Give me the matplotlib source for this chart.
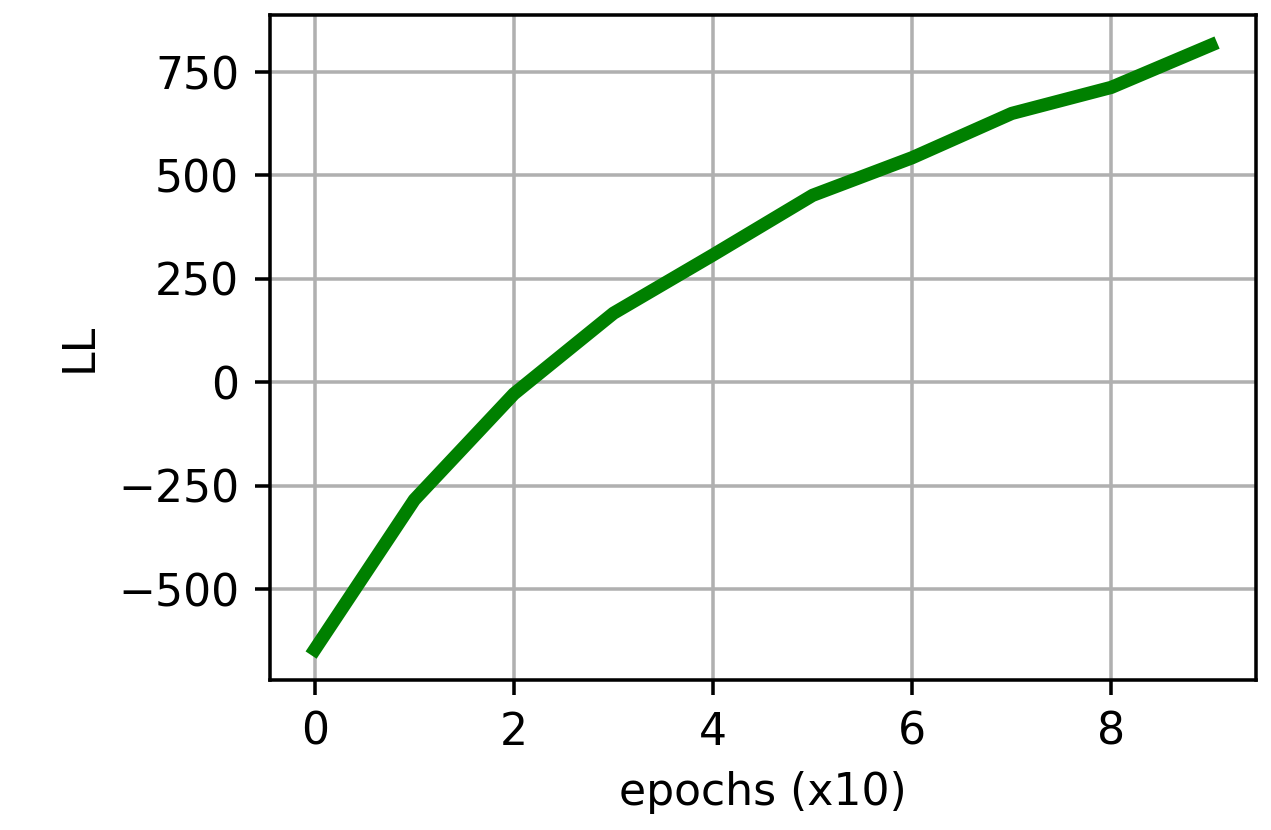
import matplotlib
matplotlib.use("Agg")
import matplotlib.pyplot as plt

# Log-likelihood recorded every 10 epochs
epochs = list(range(10))
log_likelihood = [-646, -284, -28, 167, 308, 452, 543, 650, 713, 815]

DPI = 318
fig = plt.figure(figsize=(1271 / DPI, 830 / DPI), dpi=DPI)
ax = fig.add_axes([0.2124, 0.181, 0.7756, 0.801])

ax.plot(epochs, log_likelihood, color="g", linewidth=3)
ax.set_xlabel("epochs (x10)")
ax.set_ylabel("LL")
ax.set_yticks([-500, -250, 0, 250, 500, 750])
ax.grid(True)

fig.savefig("out.png", dpi=DPI)
